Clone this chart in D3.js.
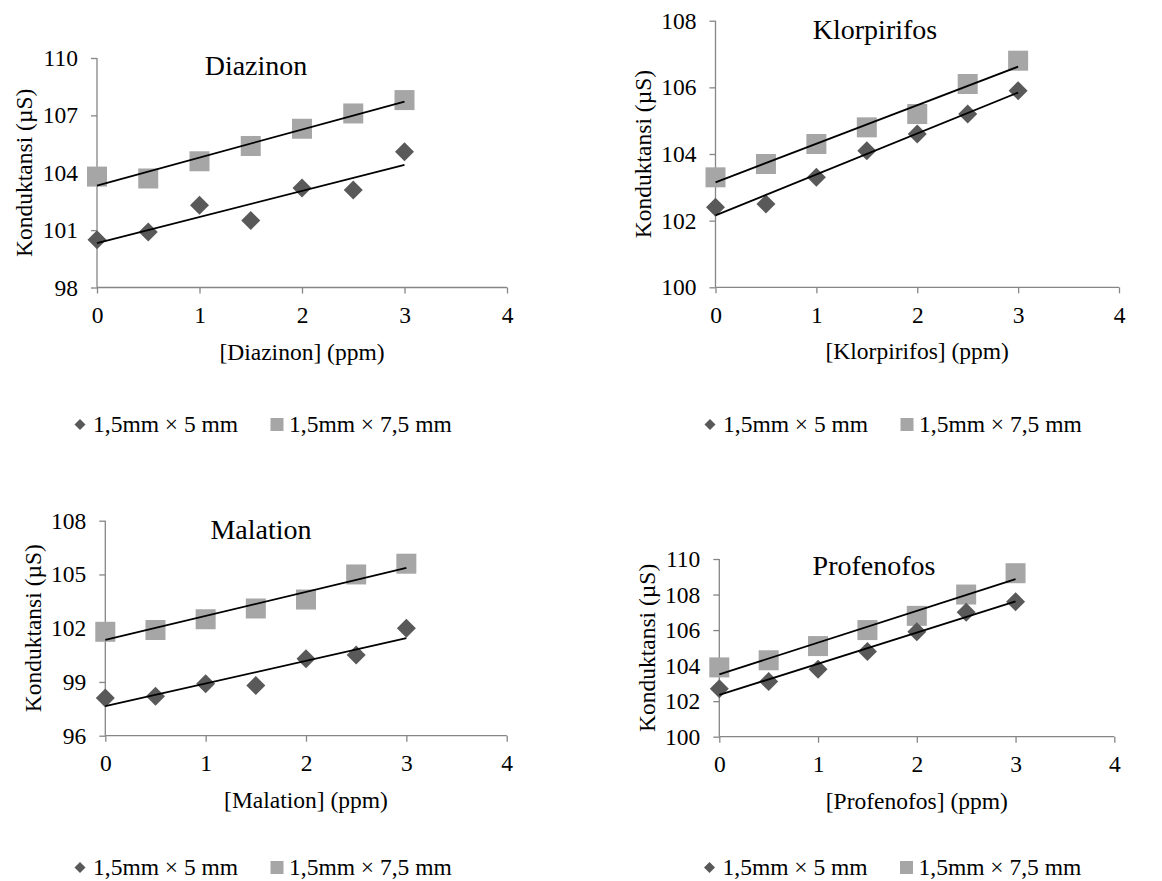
<!DOCTYPE html>
<html>
<head>
<meta charset="utf-8">
<script src="https://cdn.jsdelivr.net/npm/d3@7"></script>
<style>
  html, body { margin: 0; padding: 0; background: #fff; }
  svg { display: block; }
  text { font-family: "Liberation Serif", "Times New Roman", serif; fill: #000; }
</style>
</head>
<body>
<svg id="chart" width="1162" height="881"></svg>
<script>
// ---------- data ----------
const xValues = [0, 0.5, 1, 1.5, 2, 2.5, 3];
const xTicks = [0, 1, 2, 3, 4];
const seriesNames = ["1,5mm \u00d7 5 mm", "1,5mm \u00d7 7,5 mm"];

const diazinon5  = [100.5, 100.9, 102.3, 101.5, 103.2, 103.1, 105.1];
const diazinon75 = [103.8, 103.7, 104.6, 105.4, 106.3, 107.1, 107.8];
const diazinonTicks = [98, 101, 104, 107, 110];

const klorpirifos5  = [102.4, 102.5, 103.3, 104.1, 104.6, 105.2, 105.9];
const klorpirifos75 = [103.3, 103.7, 104.3, 104.8, 105.2, 106.1, 106.8];
const klorpirifosTicks = [100, 102, 104, 106, 108];

const malation5  = [98.1, 98.2, 98.9, 98.8, 100.3, 100.5, 102.0];
const malation75 = [101.8, 101.9, 102.5, 103.1, 103.6, 105.0, 105.6];
const malationTicks = [96, 99, 102, 105, 108];

const profenofos5  = [102.7, 103.1, 103.8, 104.8, 105.9, 107.0, 107.6];
const profenofos75 = [103.9, 104.3, 105.1, 106.0, 106.8, 108.0, 109.2];
const profenofosTicks = [100, 102, 104, 106, 108, 110];

const titles = ["Diazinon", "Klorpirifos", "Malation", "Profenofos"];
const xTitles = ["[Diazinon] (ppm)", "[Klorpirifos] (ppm)", "[Malation] (ppm)", "[Profenofos] (ppm)"];
const yTitle = "Konduktansi (\u00b5S)";

// ---------- layout ----------
const panels = [
  { title: titles[0], xTitle: xTitles[0], s1: diazinon5, s2: diazinon75, ticks: diazinonTicks,
    left: 97, right: 507, top: 58, bottom: 287.5, tx: 256, ty: 75, lx: 80, ly: 424.5 },
  { title: titles[1], xTitle: xTitles[1], s1: klorpirifos5, s2: klorpirifos75, ticks: klorpirifosTicks,
    left: 715.5, right: 1119, top: 20.7, bottom: 287.3, tx: 875, ty: 38.5, lx: 710, ly: 424.5 },
  { title: titles[2], xTitle: xTitles[2], s1: malation5, s2: malation75, ticks: malationTicks,
    left: 105.3, right: 506.7, top: 520.7, bottom: 735.7, tx: 261, ty: 538.5, lx: 80, ly: 867.5 },
  { title: titles[3], xTitle: xTitles[3], s1: profenofos5, s2: profenofos75, ticks: profenofosTicks,
    left: 719.3, right: 1114.3, top: 559, bottom: 736.7, tx: 874, ty: 575, lx: 709.5, ly: 867.5 }
];

const axisColor = "#868686";
const darkColor = "#595959";
const lightColor = "#a6a6a6";
const fontSize = 23.5;
const titleSize = 28;

const svg = d3.select("#chart");

function regression(xs, ys) {
  const mx = d3.mean(xs), my = d3.mean(ys);
  let num = 0, den = 0;
  xs.forEach((x, i) => { num += (x - mx) * (ys[i] - my); den += (x - mx) * (x - mx); });
  const slope = num / den;
  return { slope, intercept: my - slope * mx };
}

panels.forEach(p => {
  const x = d3.scaleLinear().domain([0, 4]).range([p.left, p.right]);
  const y = d3.scaleLinear().domain([d3.min(p.ticks), d3.max(p.ticks)]).range([p.bottom, p.top]);
  const g = svg.append("g");

  // x axis
  const xa = g.append("g").attr("transform", `translate(0,${p.bottom})`)
    .call(d3.axisBottom(x).tickValues(xTicks).tickSize(6).tickPadding(13).tickFormat(d3.format("d")));
  // y axis
  const ya = g.append("g").attr("transform", `translate(${p.left},0)`)
    .call(d3.axisLeft(y).tickValues(p.ticks).tickSize(6).tickPadding(13).tickFormat(d3.format("d")));
  [xa, ya].forEach(a => {
    a.select(".domain").attr("stroke", axisColor).attr("stroke-width", 1.3);
    a.selectAll(".tick line").attr("stroke", axisColor).attr("stroke-width", 1.3);
    a.selectAll(".tick text").attr("font-size", fontSize)
      .attr("font-family", "'Liberation Serif', 'Times New Roman', serif").attr("fill", "#000");
    a.attr("font-size", null);
  });
  xa.select(".domain").attr("d", `M${p.left},0H${p.right}`);
  ya.select(".domain").attr("d", `M0,${p.bottom}V${p.top}`);
  xa.selectAll(".tick text").attr("dy", "0.71em").attr("y", 19);

  // trend lines
  [p.s1, p.s2].forEach(s => {
    const r = regression(xValues, s);
    const x0 = d3.min(xValues), x1 = d3.max(xValues);
    g.append("line")
      .attr("x1", x(x0)).attr("y1", y(r.intercept + r.slope * x0))
      .attr("x2", x(x1)).attr("y2", y(r.intercept + r.slope * x1))
      .attr("stroke", "#000").attr("stroke-width", 1.8);
  });

  // squares (1,5 x 7,5)
  const sq = 20;
  g.selectAll("rect.pt").data(p.s2).join("rect").attr("class", "pt")
    .attr("x", (d, i) => x(xValues[i]) - sq / 2)
    .attr("y", d => y(d) - sq / 2)
    .attr("width", sq).attr("height", sq)
    .attr("fill", lightColor);

  // diamonds (1,5 x 5)
  const dm = 9.5;
  g.selectAll("path.pt").data(p.s1).join("path").attr("class", "pt")
    .attr("d", (d, i) => {
      const cx = x(xValues[i]), cy = y(d);
      return `M${cx},${cy - dm}L${cx + dm},${cy}L${cx},${cy + dm}L${cx - dm},${cy}Z`;
    })
    .attr("fill", darkColor);

  // trend lines drawn over markers as in Excel
  g.selectAll("line").raise();

  // titles
  g.append("text").attr("x", p.tx).attr("y", p.ty).attr("text-anchor", "middle")
    .attr("font-size", titleSize).text(p.title);
  g.append("text").attr("x", (p.left + p.right) / 2).attr("y", p.bottom + 72)
    .attr("text-anchor", "middle").attr("font-size", fontSize).text(p.xTitle);
  g.append("text")
    .attr("transform", `translate(${p.left - 73},${(p.top + p.bottom) / 2}) rotate(-90)`)
    .attr("text-anchor", "middle").attr("dy", "0.35em").attr("font-size", fontSize).text(yTitle);

  // legend
  const lg = g.append("g");
  const ld = 5.5;
  lg.append("path")
    .attr("d", `M${p.lx},${p.ly - ld}L${p.lx + ld},${p.ly}L${p.lx},${p.ly + ld}L${p.lx - ld},${p.ly}Z`)
    .attr("fill", darkColor);
  lg.append("text").attr("x", p.lx + 13).attr("y", p.ly + 7.5).attr("font-size", fontSize).text(seriesNames[0]);
  lg.append("rect").attr("x", p.lx + 190.5).attr("y", p.ly - 6.5).attr("width", 13).attr("height", 13)
    .attr("fill", lightColor);
  lg.append("text").attr("x", p.lx + 209).attr("y", p.ly + 7.5).attr("font-size", fontSize).text(seriesNames[1]);
});
</script>
</body>
</html>
